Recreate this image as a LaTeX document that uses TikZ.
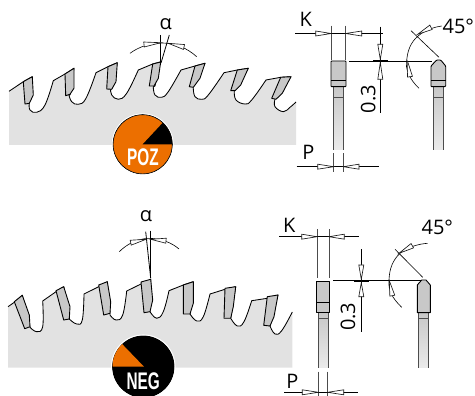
\documentclass[tikz,border=0pt]{standalone}
\usepackage{fontspec}
\setmainfont{Open Sans}
\newfontfamily\badgefont{Liberation Sans}
\usetikzlibrary{calc}
\definecolor{bodygray}{HTML}{E2E2E2}
\definecolor{tipgray}{HTML}{C8C8C8}
\definecolor{badgeorange}{HTML}{EC6F00}
\tikzset{
  outline/.style={black,line width=.85pt,line join=round},
  insert/.style={draw=black,fill=tipgray,line width=.9pt,line join=round},
  dimline/.style={black,line width=.8pt},
  extline/.style={black!70,line width=.8pt},
  arcline/.style={black,line width=.6pt},
  arrowbody/.style={draw=black!90,fill=white,line width=.65pt,line join=miter},
  label/.style={font=\fontsize{20}{22}\selectfont,inner sep=0pt,text=black},
  badge/.style={font=\badgefont\bfseries\fontsize{24}{26}\selectfont,text=white,inner sep=0pt,xscale=.64},
  stem/.style={top color=tipgray,bottom color=bodygray!70!white,draw=none},
}
\newcommand{\tiparrow}[2]{\draw[arrowbody] (#1) -- ($(#2)!2.5pt!90:(#1)$) -- ($(#2)!2.5pt!-90:(#1)$) -- cycle;}
\newcommand{\topprofile}{(9,91.3) -- (23.3,81.7) -- (32.3,76.7) -- (29.3,103.3)
 -- plot[smooth,tension=.7] coordinates {(29.3,103.3) (30,110) (36.7,112.3) (45,105) (53.3,80.7)}
 -- (65,74) -- (74,68.3) -- (70,95)
 -- plot[smooth,tension=.7] coordinates {(69,95) (71.7,101.7) (78.3,104.3) (86,98.3) (96,72.7)}
 -- (108,66.7) -- (117.3,62.7) -- (111.7,89)
 -- plot[smooth,tension=.7] coordinates {(110.7,89.3) (111.7,95) (118.3,99.3) (126.7,93.3) (138.3,70)}
 -- (152.7,64) -- (160,62) -- (155,86)
 -- plot[smooth,tension=.7] coordinates {(153.3,86.7) (155,95) (161.7,97.3) (168.3,91.7) (181,70)}
 -- (195,66) -- (205,63.3) -- (193.3,87)
 -- plot[smooth,tension=.7] coordinates {(193.3,88.3) (195,96.7) (201.7,99.3) (208.3,95) (224,72.7)}
 -- (237.3,70) -- (248.3,68.3) -- (234.3,91)
 -- plot[smooth,tension=.7] coordinates {(234.3,91.7) (236,100) (245,104) (251.7,100) (266,80)}
 -- (280.7,77.3) -- (291,76.7) -- (275,99)
 -- plot[smooth,tension=.7] coordinates {(275,99.3) (275,106.7) (283.3,111.7) (290,107.3) (296,102)}}
\newcommand{\botprofile}{(8,306.7) -- (14.3,302.3) -- (22.3,295.3) -- (30,326.7)
 -- plot[smooth,tension=.7] coordinates {(30,327.3) (36.7,331.7) (42.7,326.7) (42.7,301)}
 -- (56,291.7) -- (63.7,286.7) -- (69.3,319)
 -- plot[smooth,tension=.7] coordinates {(69.3,319) (76.7,324) (82.3,320) (84,294)}
 -- (98.7,286.7) -- (107.3,281.7) -- (110,313.3)
 -- plot[smooth,tension=.7] coordinates {(110,315) (116,320) (122.7,315) (126.7,291)}
 -- (141,284) -- (150.7,279.3) -- (150,311.7)
 -- plot[smooth,tension=.7] coordinates {(150,311.7) (156.7,318.3) (163.3,311.7) (169,290.7)}
 -- (183.3,285) -- (193.3,281.7) -- (190,314)
 -- plot[smooth,tension=.7] coordinates {(190,314) (196.7,321) (203.3,316.7) (210,294)}
 -- (225,289.3) -- (235.7,286.7) -- (230.7,318.3)
 -- plot[smooth,tension=.7] coordinates {(230.7,318.3) (237.3,326) (244,321.7) (251.7,300.7)}
 -- (267.3,298.3) -- (278,295) -- (270,326)
 -- plot[smooth,tension=.7] coordinates {(270,326) (275,334) (281.7,330.7) (292.3,312)}}
\begin{document}
\begin{tikzpicture}[x=1pt,y=-1pt]
\useasboundingbox (0,0) rectangle (475,396);
% ---------- upper blade
\fill[bodygray] \topprofile -- (296,145) -- (9,145) -- cycle;
\draw[outline] \topprofile;
\draw[insert] (23.3,81.7) -- (32.3,76.7) -- (33.3,95) -- (29.3,103.3) -- (25,104) -- cycle;
\draw[insert] (65,74) -- (74,68.3) -- (74,88.3) -- (70,94.3) -- (65.7,95.7) -- cycle;
\draw[insert] (108,66.7) -- (117.3,62.7) -- (116,81.7) -- (111.7,89.3) -- (106.7,89) -- cycle;
\draw[insert] (152.7,64) -- (160.7,62) -- (158.3,78.3) -- (154,86) -- (149.3,86) -- cycle;
\draw[insert] (195,66) -- (205,63.3) -- (200,78.3) -- (193.3,87.3) -- (189.3,86.7) -- cycle;
\draw[insert] (237.3,70) -- (248.3,68.3) -- (240.7,85) -- (235,90.7) -- (230.7,90.7) -- cycle;
\draw[insert] (280.7,77.3) -- (291,76.7) -- (282.3,93.3) -- (276,99.3) -- (271.7,98.3) -- cycle;
% upper badge
\fill[badgeorange] (142.7,144.3) circle[radius=29.5];
\fill[black] (142.7,144.3) -- (172.2,144.3) arc[start angle=0,end angle=-47,radius=29.5] -- cycle;
\draw[black,line width=.9pt] (142.7,144.3) circle[radius=29.7];
\draw[white,line width=.8pt] (142.7,144.3) circle[radius=30.5];
\node[badge] (poz) at (143,157.3) {POZ};
% upper alpha
\node[label] (alpha1) at (165.7,24) {α};
\draw[arcline] (130,53.3) .. controls (140,46) and (150,43.5) .. (163,43) .. controls (176,43.5) and (187,48) .. (196.7,56.7);
\draw[dimline] (160.7,35) -- (160.7,62.5);
\draw[dimline] (169.3,35) -- (161,63);
\tiparrow{160.7,42.7}{144,44.5}
\tiparrow{168.3,43.3}{184,47}
% upper left section
\draw[stem] (333.7,86.7) rectangle (343.7,150);
\draw[extline] (333.7,86.7) -- (333.7,150) (343.7,86.7) -- (343.7,150);
\draw[extline] (333.7,97.3) -- (343.7,97.3);
\draw[insert,rounded corners=.8pt] (331,61) rectangle (346,86.7);
\draw[black,line width=.9pt] (331,80) -- (346,80);
\draw[extline] (331,25.7) -- (331,60) (345.7,25.7) -- (345.7,60);
\draw[dimline] (295,33.5) -- (383.3,33.5);
\draw[dimline] (380.3,26.7) -- (380.3,113);
\draw[dimline] (349.3,61) -- (431.7,61);
\draw[black,line width=1.1pt] (373.3,61) -- (387.7,61);
\tiparrow{331,33.5}{315.7,33.5}
\tiparrow{345.7,33.5}{361.7,33.5}
\tiparrow{380.3,59.5}{380.3,44.3}
\tiparrow{380.3,62.5}{380.3,79.3}
\node[label] (k1) at (305.7,19) {K};
\node[label,rotate=90] (h1) at (368.3,99.3) {0.3};
\draw[extline] (333.7,153.3) -- (333.7,171.7) (343.3,153.3) -- (343.3,171.7);
\draw[dimline] (296.7,166.7) -- (379,166.7);
\tiparrow{333.7,166.7}{317.7,166.7}
\tiparrow{343.3,166.7}{359,166.7}
\node[label] (p1) at (308.3,152.7) {P};
% upper right section
\draw[stem] (433.7,86.7) rectangle (443.3,150);
\draw[extline] (433.7,86.7) -- (433.7,150) (443.3,86.7) -- (443.3,150);
\draw[extline] (433.7,97.3) -- (443.3,97.3);
\draw[insert,rounded corners=.8pt] (431,66) -- (436.7,60) -- (440.7,60) -- (445.7,66) -- (445.7,86.7) -- (431,86.7) -- cycle;
\draw[black,line width=.9pt] (431,80) -- (445.7,80);
\draw[arcline] (411,30.7) -- (439,57.3);
\draw[arcline] (419,88.3) .. controls (409,79) and (405,68) .. (406.7,60) .. controls (408,47) and (413,39) .. (421.7,33.3) .. controls (428,29) and (435,27) .. (441.7,26);
\tiparrow{417.7,34.3}{431,27.3}
\tiparrow{407.7,61.7}{410,76.7}
\node[label] (a1) at (458.3,26) {45°};
% ---------- lower blade
\fill[bodygray] \botprofile -- (292.3,367.7) -- (8,367.7) -- cycle;
\draw[outline] \botprofile;
\draw[insert] (14.3,301.7) -- (22.3,295.3) -- (29.3,315) -- (30,326.7) -- (24.7,328.7) -- cycle;
\draw[insert] (56,290.7) -- (63.7,286.7) -- (70,306.7) -- (69.3,319) -- (63.7,320) -- cycle;
\draw[insert] (98.7,285) -- (107.3,281.7) -- (110.7,301.7) -- (110,313.3) -- (103.7,315) -- cycle;
\draw[insert] (141,282) -- (150.7,279.3) -- (152.7,300) -- (150,311.7) -- (144,312.7) -- cycle;
\draw[insert] (183.3,285) -- (193.3,281.7) -- (193.3,303.3) -- (190,314) -- (183.3,314) -- cycle;
\draw[insert] (225,288.3) -- (235.7,286.7) -- (233.3,306.7) -- (230.7,318.3) -- (224,318.3) -- cycle;
\draw[insert] (267.3,296.7) -- (278,295) -- (274,316.7) -- (270,326) -- (263.7,325.3) -- cycle;
% lower badge
\fill[black] (143.3,366.7) circle[radius=31.2];
\fill[badgeorange] (144,366.7) -- (112.5,366.7) arc[start angle=180,end angle=226,radius=31.5] -- cycle;
\draw[white,line width=.9pt] (143.3,366.7) circle[radius=31.8];
\node[badge] (neg) at (143.3,381.7) {NEG};
% lower alpha
\node[label] (alpha2) at (146,216.5) {α};
\draw[arcline] (119.3,251.7) .. controls (127,244) and (137,239) .. (148.3,238.3) .. controls (160,238.5) and (171,242) .. (179,249);
\draw[dimline] (145.7,231.7) -- (150.7,278.3);
\draw[dimline] (150.7,230.7) -- (150.7,278.3);
\tiparrow{146,239.3}{130.7,242.7}
\tiparrow{150.7,239.3}{166,240.7}
% lower left section
\draw[stem] (318.3,312.7) rectangle (328.3,367.7);
\draw[extline] (318.3,312.7) -- (318.3,367.7) (328.3,312.7) -- (328.3,367.7);
\draw[extline] (318.3,318.7) -- (328.3,318.7);
\draw[insert] (316.7,281) rectangle (329.3,312.7);
\draw[black,line width=.9pt] (316.7,302) -- (329.3,302);
\draw[extline] (317,229.3) -- (317,277.7) (329,229.3) -- (329,277.7);
\draw[dimline] (279,236.7) -- (359,236.7);
\draw[dimline] (361.3,249.3) -- (361.3,331.7);
\draw[dimline] (333.3,280.7) -- (423.3,280.7);
\draw[black,line width=1.1pt] (354,281) -- (369,281);
\tiparrow{317,236.7}{301.7,236.7}
\tiparrow{329,236.7}{344.3,236.7}
\tiparrow{361.3,279.3}{361.3,265}
\tiparrow{361.3,282.7}{361.3,296.7}
\node[label] (k2) at (289.3,225) {K};
\node[label,rotate=90] (h2) at (348,316.7) {0.3};
\draw[extline] (318.3,371.7) -- (318.3,396) (327.7,371.7) -- (327.7,396);
\draw[dimline] (284.3,392.3) -- (357.7,392.3);
\tiparrow{318.3,392.3}{302.3,392.3}
\tiparrow{327.7,392.3}{343.7,392.3}
\node[label] (p2) at (292.3,381) {P};
% lower right section
\draw[stem] (418.7,312.7) rectangle (428.7,367.7);
\draw[extline] (418.7,312.7) -- (418.7,367.7) (428.7,312.7) -- (428.7,367.7);
\draw[extline] (418.7,318.7) -- (428.7,318.7);
\draw[insert] (417.3,285) -- (421.7,280) -- (426,280) -- (430.3,285) -- (430.3,312.7) -- (417.3,312.7) -- cycle;
\draw[arcline] (395,249.3) -- (422.7,277.3);
\draw[arcline] (401.7,307.3) .. controls (392,298) and (388,290) .. (389,280) .. controls (389.5,268) and (393,260) .. (400,253.3) .. controls (408,247) and (418,244) .. (427.7,243.3);
\tiparrow{399,253.3}{412.3,245.7}
\tiparrow{389.3,280.7}{392.3,295.7}
\node[label] (a2) at (437.3,227.3) {45°};
\end{tikzpicture}
\end{document}
